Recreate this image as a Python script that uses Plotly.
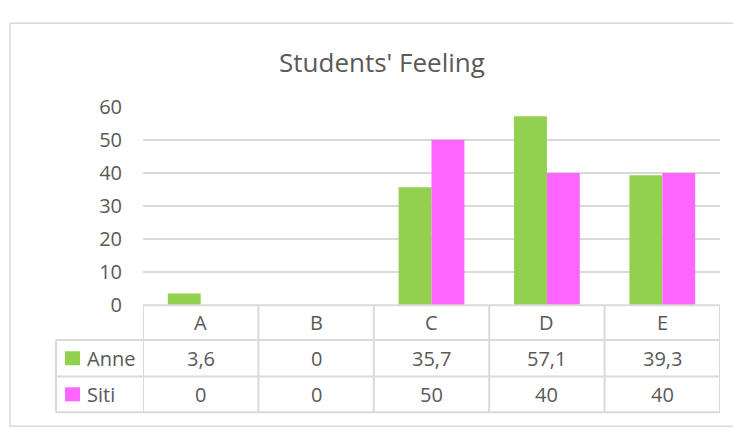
import plotly.graph_objects as go

categories = ["A", "B", "C", "D", "E"]
anne = [3.6, 0, 35.7, 57.1, 39.3]
siti = [0, 0, 50, 40, 40]
series_names = ["Anne", "Siti"]
series_colors = ["#92D050", "#FF66FF"]
title_text = "Students' Feeling"
y_ticks = [0, 10, 20, 30, 40, 50, 60]

W, H = 733, 427
FONT = "Open Sans"
TXT = "#595959"
GRID = "#d9d9d9"


def px_x(x):
    return x / W


def px_y(y):
    return 1 - y / H


def fmt(v):
    s = ("%.1f" % v).rstrip("0").rstrip(".")
    return s.replace(".", ",")


fig = go.Figure()
for name, vals, col in zip(series_names, [anne, siti], series_colors):
    fig.add_trace(go.Bar(x=categories, y=vals, name=name, marker_color=col,
                         marker_line_width=0, showlegend=False))

plot_left, plot_right = 143, 720
y_zero, y_top = 311, 99
row_hdr = (311, 348)
row1 = (348, 387)
row2 = (387, 425)
leg_left = 56

shapes = []
# outer chart frame
shapes.append(dict(type="rect", xref="paper", yref="paper",
                   x0=px_x(10), x1=px_x(745), y0=px_y(440), y1=px_y(10),
                   line=dict(color="#d9d9d9", width=1.5), fillcolor="rgba(0,0,0,0)"))
lw = 2
tcol = "#dadada"
shapes.append(dict(type="line", xref="x", yref="paper", x0=-0.5, x1=len(categories) - 0.5,
                   y0=px_y(row_hdr[0]), y1=px_y(row_hdr[0]), line=dict(color=tcol, width=lw)))
for yy in [row1[0], row2[0], row2[1]]:
    shapes.append(dict(type="line", xref="paper", yref="paper", x0=px_x(leg_left), x1=px_x(plot_right),
                       y0=px_y(yy), y1=px_y(yy), line=dict(color=tcol, width=lw)))
for i in range(len(categories) + 1):
    shapes.append(dict(type="line", xref="x", yref="paper", x0=i - 0.5, x1=i - 0.5,
                       y0=px_y(row_hdr[0]), y1=px_y(row2[1]), line=dict(color=tcol, width=lw)))
shapes.append(dict(type="line", xref="paper", yref="paper", x0=px_x(leg_left), x1=px_x(leg_left),
                   y0=px_y(row1[0]), y1=px_y(row2[1]), line=dict(color=tcol, width=lw)))
for (r0, r1), col in zip([row1, row2], series_colors):
    cy = (r0 + r1) / 2
    shapes.append(dict(type="rect", xref="paper", yref="paper", x0=px_x(65), x1=px_x(80),
                       y0=px_y(cy + 7.5), y1=px_y(cy - 7.5), line=dict(width=0), fillcolor=col))

annotations = []
annotations.append(dict(text=title_text, xref="paper", yref="paper", x=px_x(382), y=px_y(51),
                        xanchor="center", yanchor="middle", showarrow=False,
                        font=dict(family=FONT, size=26, color=TXT)))
for i, c in enumerate(categories):
    annotations.append(dict(text=c, xref="x", yref="paper", x=c, y=px_y(sum(row_hdr) / 2),
                            xanchor="center", yanchor="middle", showarrow=False,
                            font=dict(family=FONT, size=20, color=TXT)))
for (r0, r1), name, vals in zip([row1, row2], series_names, [anne, siti]):
    cy = px_y((r0 + r1) / 2)
    annotations.append(dict(text=name, xref="paper", yref="paper", x=px_x(85), y=cy,
                            xanchor="left", yanchor="middle", showarrow=False,
                            font=dict(family=FONT, size=20, color=TXT)))
    for c, v in zip(categories, vals):
        annotations.append(dict(text=fmt(v), xref="x", yref="paper", x=c, y=cy,
                                xanchor="center", yanchor="middle", showarrow=False,
                                font=dict(family=FONT, size=20, color=TXT)))

fig.update_layout(
    width=W, height=H, margin=dict(l=0, r=0, t=0, b=0),
    paper_bgcolor="white", plot_bgcolor="white",
    barmode="group", bargap=0.43, bargroupgap=0,
    font=dict(family=FONT, color=TXT),
    xaxis=dict(domain=[px_x(plot_left), px_x(plot_right)], range=[-0.5, len(categories) - 0.5],
               type="category", showticklabels=False, showgrid=False, zeroline=False,
               showline=False, ticks=""),
    yaxis=dict(domain=[px_y(y_zero), px_y(y_top)], range=[0, 60], tickvals=y_ticks,
               showgrid=True, gridcolor=GRID, gridwidth=1.5, zeroline=False, showline=False,
               ticks="", ticklabelstandoff=20, tickfont=dict(family=FONT, size=20, color=TXT)),
    shapes=shapes, annotations=annotations,
)

fig.write_html("out.html")
